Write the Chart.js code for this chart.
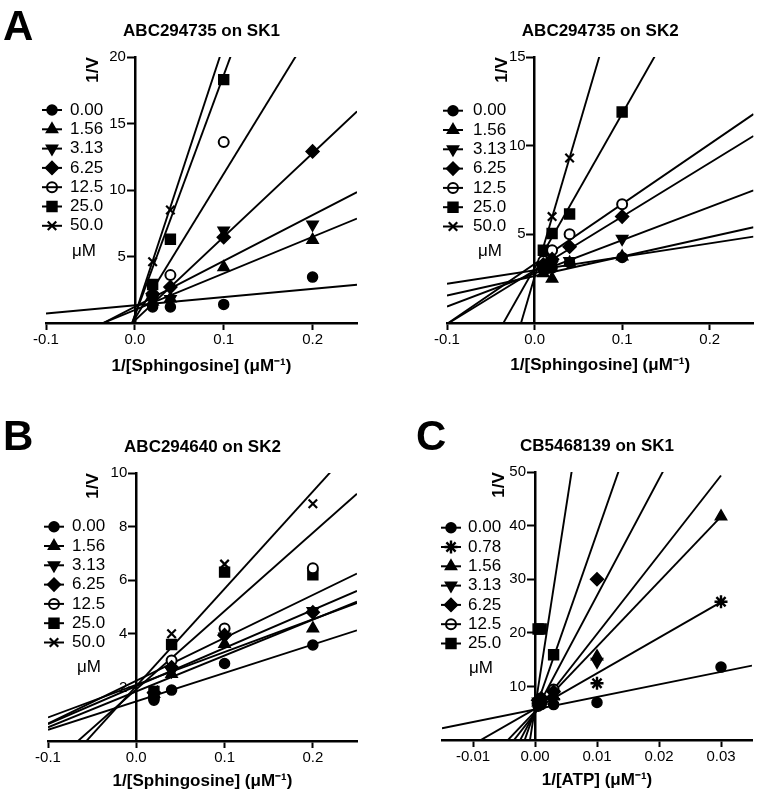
<!DOCTYPE html>
<html>
<head>
<meta charset="utf-8">
<script src="https://cdn.jsdelivr.net/npm/chart.js@4.4.1/dist/chart.umd.min.js"></script>
<style>
  body { margin: 0; background: #fff; width: 762px; height: 795px; position: relative; overflow: hidden; }
  canvas { position: absolute; }
</style>
</head>
<body>
<canvas id="cA1" width="381" height="395" style="left:0;top:0"></canvas>
<canvas id="cA2" width="381" height="395" style="left:381px;top:0"></canvas>
<canvas id="cB" width="381" height="400" style="left:0;top:395px"></canvas>
<canvas id="cC" width="381" height="400" style="left:381px;top:395px"></canvas>
<script>
// ---- data ----
// inhibitor concentrations (legend, uM)
const concA = ['0.00', '1.56', '3.13', '6.25', '12.5', '25.0', '50.0'];
const concC = ['0.00', '0.78', '1.56', '3.13', '6.25', '12.5', '25.0'];

// A: ABC294735 on SK1
const a1X = [0.02, 0.04, 0.1, 0.2];
const a1Y = [
  [1.2, 1.2, 1.4, 3.45],
  [1.6, 1.85, 4.2, 6.25],
  [1.8, 1.8, 6.95, 7.4],
  [2.2, 2.7, 6.45, 12.9],
  [2.0, 3.6, 13.6, null],
  [2.9, 6.3, 18.3, null],
  [4.6, 8.5, null, null]
];
const a1Slope = [6.2, 27.5, 34.5, 62.9, 108.9, 181, 203];
const a1Icpt = [1.33, 0.98, 1.22, 0.19, 0.33, 0.54, 0.6];

// A: ABC294735 on SK2
const a2X = [0.01, 0.02, 0.04, 0.1];
const a2Y = [
  [3.0, 3.1, 3.4, 3.7],
  [2.8, 2.5, 3.4, 3.75],
  [3.1, 3.3, 3.5, 4.75],
  [3.3, 3.6, 4.3, 6.0],
  [3.5, 4.1, 5.0, 6.7],
  [4.1, 5.05, 6.15, 11.9],
  [3.8, 6.0, 9.3, null]
];
const a2Slope = [7.6, 11.0, 18.7, 30.3, 33.8, 87, 168];
const a2Icpt = [2.97, 2.65, 2.8, 2.97, 3.33, 3.1, 2.6];

// B: ABC294640 on SK2
const bX = [0.02, 0.04, 0.1, 0.2];
const bY = [
  [1.52, 1.9, 2.89, 3.58],
  [1.75, 2.5, 3.62, 4.2],
  [1.7, 2.6, 3.9, 4.85],
  [1.8, 2.75, 3.95, 4.8],
  [1.6, 3.0, 4.2, 6.45],
  [1.85, 3.6, 6.3, 6.2],
  [1.9, 4.0, 6.6, 8.85]
];
const bSlope = [10.6, 13.4, 12.2, 14.2, 16.0, 29.2, 36.3];
const bIcpt = [1.48, 1.85, 2.1, 2.05, 2.25, 1.93, 2.05];

// C: CB5468139 on SK1 (vs ATP)
const cX = [0.0005, 0.001, 0.003, 0.01, 0.03];
const cY = [
  [6.3, 6.6, 6.6, 7.0, 13.6],
  [6.8, 7.0, 7.6, 10.6, 25.8],
  [7.0, 7.3, 8.2, 15.6, 41.7],
  [7.2, 7.5, 8.6, 14.6, null],
  [7.4, 7.8, 9.0, 30.0, null],
  [7.1, 7.7, 9.4, null, null],
  [20.7, 20.7, 15.9, null, null]
];
const cSlope = [234, 664, 1213, 1478, 2175, 3311, 7458];
const cIcpt = [5.69, 5.8, 5.3, 5.0, 5.2, 5.5, 6.0];
const cFitEnd = [0.035, 0.03, 0.03, 0.03, 0.035, 0.035, 0.035];

// tick labels
const xTicksSph = [-0.1, 0, 0.1, 0.2];
const xTicksAtp = [-0.01, 0, 0.01, 0.02, 0.03];
const yTicksA1 = [5, 10, 15, 20];
const yTicksA2 = [5, 10, 15];
const yTicksB = [2, 4, 6, 8, 10];
const yTicksC = [10, 20, 30, 40, 50];

// ---- drawing ----
const FONT = '"Liberation Sans", Arial, Helvetica, sans-serif';
Chart.defaults.font.family = FONT;
Chart.defaults.color = '#000';

const SHAPES = {
  circle:  { pointStyle: 'circle', rotation: 0, radius: 5, fill: '#000', bw: 1.5 },
  open:    { pointStyle: 'circle', rotation: 0, radius: 5, fill: '#fff', bw: 2 },
  up:      { pointStyle: 'triangle', rotation: 0, radius: 6.5, fill: '#000', bw: 1.5 },
  down:    { pointStyle: 'triangle', rotation: 180, radius: 6.5, fill: '#000', bw: 1.5 },
  diamond: { pointStyle: 'rectRot', rotation: 0, radius: 6.5, fill: '#000', bw: 1.5 },
  square:  { pointStyle: 'rect', rotation: 0, radius: 7, fill: '#000', bw: 1.5 },
  cross:   { pointStyle: 'crossRot', rotation: 0, radius: 6, fill: '#000', bw: 2.2 },
  star:    { pointStyle: 'star', rotation: 0, radius: 6.5, fill: '#000', bw: 2.4 }
};
const shapesA = ['circle', 'up', 'down', 'diamond', 'open', 'square', 'cross'];
const shapesC = ['circle', 'star', 'up', 'down', 'diamond', 'open', 'square'];

function drawMark(ctx, sh, x, y) {
  ctx.fillStyle = sh.fill;
  ctx.strokeStyle = '#000';
  ctx.lineWidth = sh.bw;
  Chart.helpers.drawPoint(ctx, { pointStyle: sh.pointStyle, rotation: sh.rotation, radius: sh.radius, borderWidth: sh.bw }, x, y);
}

const decor = {
  id: 'decor',
  // y tick labels sit left of the tick marks, under the fit lines
  beforeDatasetsDraw(chart) {
    const ctx = chart.ctx, ys = chart.scales.y;
    const axX = chart.scales.x.getPixelForValue(0);
    ctx.save();
    ctx.fillStyle = '#000';
    ctx.font = '15px ' + FONT;
    ctx.textAlign = 'right';
    ctx.textBaseline = 'middle';
    ys.ticks.forEach(t => ctx.fillText(String(t.value), axX - 9, ys.getPixelForValue(t.value)));
    ctx.restore();
  },
  afterDraw(chart, args, o) {
    const ctx = chart.ctx, a = chart.chartArea;
    const axX = chart.scales.x.getPixelForValue(0);
    ctx.save();
    ctx.fillStyle = '#000';
    // panel letter
    if (o.letter) {
      ctx.font = 'bold 42px ' + FONT;
      ctx.textAlign = 'left';
      ctx.textBaseline = 'alphabetic';
      ctx.fillText(o.letter, o.letterPos[0], o.letterPos[1]);
    }
    // title
    ctx.font = 'bold 17px ' + FONT;
    ctx.textAlign = 'center';
    ctx.textBaseline = 'middle';
    ctx.fillText(o.title, (a.left + a.right) / 2, a.top - 26);
    // y axis title
    ctx.save();
    ctx.translate(axX - o.yTitleGap, a.top + 13);
    ctx.rotate(-Math.PI / 2);
    ctx.fillText('1/V', 0, 0);
    ctx.restore();
    // legend
    ctx.font = '17px ' + FONT;
    ctx.textAlign = 'left';
    o.labels.forEach((lab, i) => {
      const y = o.legendY + i * 19.3;
      const sh = SHAPES[o.shapes[i]];
      drawMark(ctx, sh, o.markX, y);
      ctx.strokeStyle = '#000';
      ctx.lineWidth = 2;
      ctx.beginPath();
      ctx.moveTo(o.markX - 10, y);
      ctx.lineTo(o.markX + 10, y);
      ctx.stroke();
      ctx.fillStyle = '#000';
      ctx.fillText(lab, o.textX, y);
    });
    ctx.fillText('\u03BCM', o.unitX, o.legendY + 7 * 19.3 + 6);
    ctx.restore();
  }
};

function makePanel(id, p) {
  const datasets = [];
  p.conc.forEach((c, i) => {
    const sh = SHAPES[p.shapes[i]];
    const pts = [];
    p.xs.forEach((x, j) => { if (p.ys[i][j] !== null) pts.push({ x: x, y: p.ys[i][j] }); });
    datasets.push({
      label: c, data: pts, order: 0, showLine: false,
      pointStyle: sh.pointStyle, pointRotation: sh.rotation,
      pointRadius: sh.radius, pointHoverRadius: sh.radius,
      pointBackgroundColor: sh.fill, pointBorderColor: '#000',
      pointBorderWidth: sh.bw
    });
    const x0 = p.xMin, x1 = p.fitEnd ? p.fitEnd[i] : p.xMax;
    datasets.push({
      label: c + ' fit', order: 1, showLine: true, pointRadius: 0,
      borderColor: '#000', borderWidth: 1.9,
      data: [{ x: x0, y: p.icpt[i] + p.slope[i] * x0 }, { x: x1, y: p.icpt[i] + p.slope[i] * x1 }]
    });
  });

  const grid = { drawOnChartArea: false, drawTicks: true, tickLength: 7, tickWidth: 2, tickColor: '#000', color: '#000' };
  const border = { display: true, color: '#000', width: 2.5 };

  new Chart(document.getElementById(id), {
    type: 'scatter',
    data: { datasets: datasets },
    options: {
      responsive: false,
      animation: false,
      devicePixelRatio: 1,
      layout: { padding: p.pad },
      plugins: {
        legend: { display: false },
        tooltip: { enabled: false },
        decor: {
          letter: p.letter, letterPos: p.letterPos, title: p.title, yTitleGap: p.yTitleGap,
          labels: p.conc, shapes: p.shapes, legendY: p.legendY, markX: p.markX, textX: p.textX, unitX: p.unitX
        }
      },
      scales: {
        x: {
          type: 'linear', position: 'bottom', min: p.xMin, max: p.xMax,
          afterBuildTicks: s => { s.ticks = p.xTicks.map(v => ({ value: v })); },
          afterFit: s => { s.height = 52; },
          ticks: { callback: v => v.toFixed(p.xDec), font: { size: 15 }, color: '#000', padding: 1, maxRotation: 0, autoSkip: false },
          grid: grid,
          border: border,
          title: { display: true, text: p.xTitle, font: { size: 17, weight: 'bold' }, color: '#000', padding: { top: 0, bottom: p.xTitlePad } }
        },
        y: {
          type: 'linear', position: { x: 0 }, min: 0, max: p.yMax,
          afterBuildTicks: s => { s.ticks = p.yTicks.map(v => ({ value: v })); },
          ticks: { display: false },
          grid: grid,
          border: border
        }
      }
    },
    plugins: [decor]
  });
}

const sphTitle = '1/[Sphingosine] (\u03BCM\u207B\u00B9)';

makePanel('cA1', {
  conc: concA, shapes: shapesA, xs: a1X, ys: a1Y, slope: a1Slope, icpt: a1Icpt,
  xMin: -0.1, xMax: 0.25, yMax: 20, xTicks: xTicksSph, yTicks: yTicksA1, xDec: 1,
  xTitle: sphTitle, xTitlePad: -2, title: 'ABC294735 on SK1',
  letter: 'A', letterPos: [3, 40],
  pad: { left: 46, right: 24, top: 57, bottom: 20 },
  yTitleGap: 42, legendY: 110, markX: 52, textX: 70, unitX: 72
});

makePanel('cA2', {
  conc: concA, shapes: shapesA, xs: a2X, ys: a2Y, slope: a2Slope, icpt: a2Icpt,
  xMin: -0.1, xMax: 0.25, yMax: 15, xTicks: xTicksSph, yTicks: yTicksA2, xDec: 1,
  xTitle: sphTitle, xTitlePad: -1, title: 'ABC294735 on SK2',
  letter: null,
  pad: { left: 66, right: 5, top: 57, bottom: 20 },
  yTitleGap: 32, legendY: 110.7, markX: 72, textX: 92, unitX: 97
});

makePanel('cB', {
  conc: concA, shapes: shapesA, xs: bX, ys: bY, slope: bSlope, icpt: bIcpt,
  xMin: -0.1, xMax: 0.25, yMax: 10, xTicks: xTicksSph, yTicks: yTicksB, xDec: 1,
  xTitle: sphTitle, xTitlePad: 1, title: 'ABC294640 on SK2',
  letter: 'B', letterPos: [3, 55],
  pad: { left: 48, right: 24, top: 78, bottom: 2 },
  yTitleGap: 43, legendY: 131.7, markX: 54, textX: 72, unitX: 77
});

makePanel('cC', {
  conc: concC, shapes: shapesC, xs: cX, ys: cY, slope: cSlope, icpt: cIcpt, fitEnd: cFitEnd,
  xMin: -0.015, xMax: 0.035, yMax: 50, xTicks: xTicksAtp, yTicks: yTicksC, xDec: 2,
  xTitle: '1/[ATP] (\u03BCM\u207B\u00B9)', xTitlePad: 1, title: 'CB5468139 on SK1',
  letter: 'C', letterPos: [35, 55],
  pad: { left: 61, right: 10, top: 77, bottom: 3 },
  yTitleGap: 36, legendY: 132.7, markX: 70, textX: 87, unitX: 88
});
</script>
</body>
</html>
